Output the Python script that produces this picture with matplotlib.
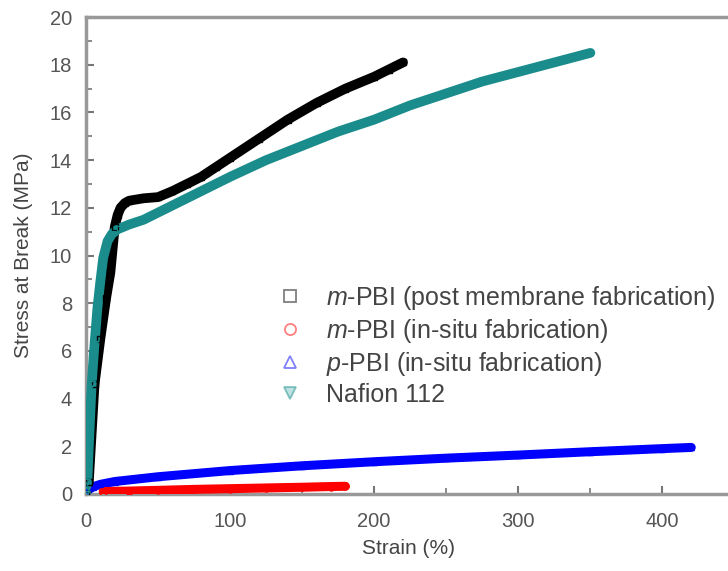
import matplotlib.pyplot as plt
from matplotlib.ticker import MultipleLocator

plt.rcParams['font.family'] = ['Liberation Sans', 'DejaVu Sans']
plt.rcParams['mathtext.fontset'] = 'custom'
plt.rcParams['mathtext.it'] = 'Liberation Sans:italic'

# m-PBI (post membrane fabrication)
strain_post = [0, 2, 6, 10, 14, 17, 20, 22, 24, 27, 30, 40, 50, 60, 70, 80, 90, 100,
               120, 140, 160, 180, 200, 210, 220]
stress_post = [0, 0.5, 4.6, 6.5, 8.2, 9.3, 11.2, 11.7, 12.0, 12.2, 12.3, 12.4, 12.45, 12.7,
               13.0, 13.3, 13.7, 14.1, 14.9, 15.7, 16.4, 17.0, 17.5, 17.8, 18.1]
# m-PBI (in-situ fabrication)
strain_insitu_m = [12, 30, 50, 75, 100, 125, 150, 170, 180]
stress_insitu_m = [0.1, 0.12, 0.15, 0.19, 0.22, 0.25, 0.28, 0.31, 0.32]
# p-PBI (in-situ fabrication)
strain_insitu_p = [0, 5, 10, 20, 50, 100, 150, 200, 250, 300, 350, 400, 420]
stress_insitu_p = [0.1, 0.3, 0.4, 0.52, 0.72, 0.98, 1.18, 1.35, 1.5, 1.63, 1.77, 1.9, 1.95]
# Nafion 112
strain_nafion = [0, 1, 2, 4, 6, 8, 10, 12, 15, 18, 22, 26, 30, 40, 50, 60, 80, 100, 125,
                 150, 175, 200, 225, 250, 275, 300, 325, 350]
stress_nafion = [0, 0.5, 2.0, 4.6, 6.3, 7.8, 8.9, 9.9, 10.6, 10.9, 11.1, 11.2, 11.3, 11.5,
                 11.8, 12.1, 12.7, 13.3, 14.0, 14.6, 15.2, 15.7, 16.3, 16.8, 17.3, 17.7,
                 18.1, 18.5]

series = [
    (strain_post, stress_post, 'black', 's', r'$\it{m}$-PBI (post membrane fabrication)'),
    (strain_insitu_m, stress_insitu_m, '#ff0000', 'o', r'$\it{m}$-PBI (in-situ fabrication)'),
    (strain_insitu_p, stress_insitu_p, '#0000ff', '^', r'$\it{p}$-PBI (in-situ fabrication)'),
    (strain_nafion, stress_nafion, '#1a8c8c', 'v', 'Nafion 112'),
]
line_w = {'s': 7, 'o': 6.5, '^': 6.5, 'v': 7}

fig = plt.figure(figsize=(7.28, 5.71), dpi=100)
ax = fig.add_axes([0.118, 0.135, 0.885, 0.835])

# p-PBI and red first so black/teal sit on top as in the original
for x, y, c, m, lab in [series[2], series[1], series[0], series[3]]:
    ax.plot(x, y, color=c, lw=line_w[m], solid_capstyle='round', solid_joinstyle='round',
            zorder=3)
    ax.plot(x, y, ls='none', marker=m, ms=5, mfc='none', mec=c, mew=1, zorder=4)

handles = []
for x, y, c, m, lab in series:
    fc = '#7fc4c4' if m == 'v' else 'none'
    h, = ax.plot([], [], ls='none', marker=m, ms=8, mfc=fc, mec=c, mew=1.3, alpha=0.5,
                 label=lab)
    handles.append(h)

ax.set_xlim(0, 447)
ax.set_ylim(0, 20)
ax.xaxis.set_major_locator(MultipleLocator(100))
ax.xaxis.set_minor_locator(MultipleLocator(50))
ax.yaxis.set_major_locator(MultipleLocator(2))
ax.yaxis.set_minor_locator(MultipleLocator(1))
ax.tick_params(which='both', direction='in', colors='#777777', labelcolor='#555555',
               labelsize=14.5)
ax.tick_params(which='major', length=6, width=1.5)
ax.tick_params(which='minor', length=4, width=1.2)
ax.tick_params(axis='x', pad=13)
ax.tick_params(axis='y', pad=10)

for side in ['left', 'top', 'bottom']:
    ax.spines[side].set_color('#999999')
    ax.spines[side].set_linewidth(2.5)
ax.spines['right'].set_visible(False)

ax.set_xlabel('Strain (%)', fontsize=15, color='#444444', labelpad=6)
ax.set_ylabel('Stress at Break (MPa)', fontsize=15, color='#444444', labelpad=12)

leg = ax.legend(handles=handles, loc='upper left', bbox_to_anchor=(0.297, 0.44),
                frameon=False, fontsize=18, handlelength=1.0, handletextpad=0.95,
                labelspacing=0.2, borderaxespad=0, borderpad=0)
for t in leg.get_texts():
    t.set_color('#444444')

fig.savefig('out.png', dpi=100)
